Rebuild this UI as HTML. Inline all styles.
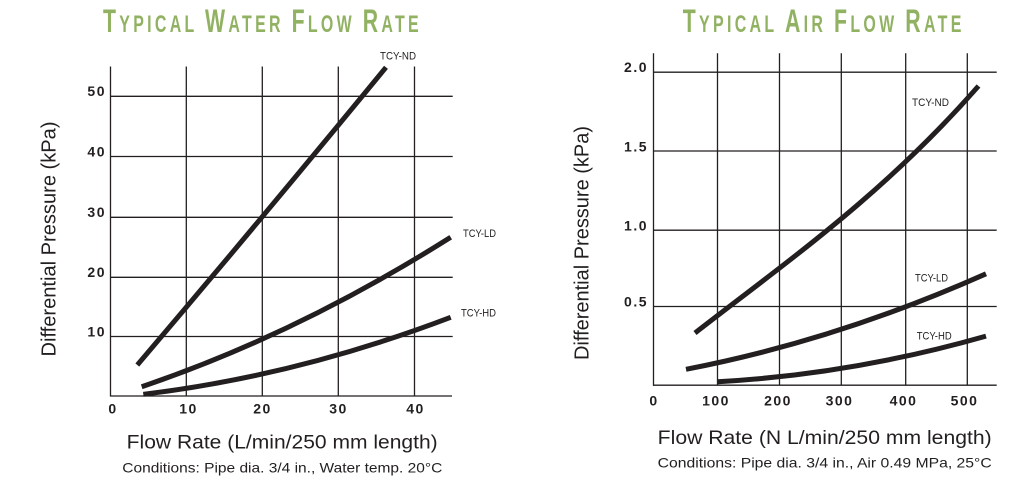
<!DOCTYPE html>
<html>
<head>
<meta charset="utf-8">
<style>
  html, body { margin: 0; padding: 0; background: #ffffff; }
  svg { display: block; }
  text { font-family: "Liberation Sans", "DejaVu Sans", sans-serif; }
</style>
</head>
<body>
<svg width="1020" height="486" viewBox="0 0 1020 486" xmlns="http://www.w3.org/2000/svg">
  <rect x="0" y="0" width="1020" height="486" fill="#ffffff"/>

  <!-- ================= LEFT CHART ================= -->
  <text x="103" y="32" textLength="319" lengthAdjust="spacingAndGlyphs" font-weight="bold" fill="#92b263" letter-spacing="5"><tspan font-size="32">T</tspan><tspan font-size="24">YPICAL </tspan><tspan font-size="32">W</tspan><tspan font-size="24">ATER </tspan><tspan font-size="32">F</tspan><tspan font-size="24">LOW </tspan><tspan font-size="32">R</tspan><tspan font-size="24">ATE</tspan></text>

  <g stroke="#231f20" stroke-width="1.3" fill="none">
    <line x1="110.5" y1="66.5" x2="110.5" y2="396.5"/>
    <line x1="186.3" y1="66.5" x2="186.3" y2="396"/>
    <line x1="262.3" y1="66.5" x2="262.3" y2="396"/>
    <line x1="338.3" y1="66.5" x2="338.3" y2="396"/>
    <line x1="414.5" y1="66.5" x2="414.5" y2="396"/>
    <line x1="110" y1="96.3" x2="452.7" y2="96.3"/>
    <line x1="110" y1="156.5" x2="452.7" y2="156.5"/>
    <line x1="110" y1="217.3" x2="452.7" y2="217.3"/>
    <line x1="110" y1="277.3" x2="452.7" y2="277.3"/>
    <line x1="110" y1="336.5" x2="452.7" y2="336.5"/>
    <line x1="110" y1="396" x2="452" y2="396"/>
  </g>

  <g font-size="14" font-weight="bold" fill="#231f20" text-anchor="end" letter-spacing="1.5">
    <text x="106" y="96">50</text>
    <text x="106" y="156.5">40</text>
    <text x="106" y="217">30</text>
    <text x="106" y="277">20</text>
    <text x="106" y="336.5">10</text>
  </g>
  <g font-size="14" font-weight="bold" fill="#231f20" text-anchor="middle" letter-spacing="1.5">
    <text x="113" y="413.5">0</text>
    <text x="188.5" y="413.5">10</text>
    <text x="262.5" y="413.5">20</text>
    <text x="338.5" y="413.5">30</text>
    <text x="415.5" y="413.5">40</text>
  </g>

  <g stroke="#231f20" stroke-width="5" fill="none" stroke-linecap="butt">
    <path d="M137.3,365 Q261.65,218.85 386,67.3"/>
    <path d="M141.7,386.7 Q296.2,334.6 450.7,237.3"/>
    <path d="M143.3,394.3 Q297,375.8 450.7,317.3"/>
  </g>

  <g font-size="11" fill="#231f20">
    <text x="380" y="59.5" textLength="36" lengthAdjust="spacingAndGlyphs">TCY-ND</text>
    <text x="463" y="237" textLength="33" lengthAdjust="spacingAndGlyphs">TCY-LD</text>
    <text x="461" y="316.5" textLength="35" lengthAdjust="spacingAndGlyphs">TCY-HD</text>
  </g>

  <text transform="translate(55.5,239) rotate(-90)" text-anchor="middle" font-size="20" fill="#231f20" textLength="235" lengthAdjust="spacingAndGlyphs">Differential Pressure (kPa)</text>
  <text x="126.7" y="448.5" font-size="19.5" fill="#231f20" textLength="311" lengthAdjust="spacingAndGlyphs">Flow Rate (L/min/250 mm length)</text>
  <text x="122.3" y="472.5" font-size="14" fill="#231f20" textLength="320" lengthAdjust="spacingAndGlyphs">Conditions: Pipe dia. 3/4 in., Water temp. 20°C</text>

  <!-- ================= RIGHT CHART ================= -->
  <text x="682.7" y="32" textLength="282" lengthAdjust="spacingAndGlyphs" font-weight="bold" fill="#92b263" letter-spacing="5"><tspan font-size="32">T</tspan><tspan font-size="24">YPICAL </tspan><tspan font-size="32">A</tspan><tspan font-size="24">IR </tspan><tspan font-size="32">F</tspan><tspan font-size="24">LOW </tspan><tspan font-size="32">R</tspan><tspan font-size="24">ATE</tspan></text>

  <g stroke="#231f20" stroke-width="1.3" fill="none">
    <line x1="653.5" y1="53.3" x2="653.5" y2="385.8"/>
    <line x1="717.5" y1="53.3" x2="717.5" y2="385.3"/>
    <line x1="779.5" y1="53.3" x2="779.5" y2="385.3"/>
    <line x1="841.3" y1="53.3" x2="841.3" y2="385.3"/>
    <line x1="905.7" y1="53.3" x2="905.7" y2="385.3"/>
    <line x1="967.3" y1="53.3" x2="967.3" y2="385.3"/>
    <line x1="653" y1="72.2" x2="996.7" y2="72.2"/>
    <line x1="653" y1="151" x2="996.7" y2="151"/>
    <line x1="653" y1="230.2" x2="996.7" y2="230.2"/>
    <line x1="653" y1="306.5" x2="996.7" y2="306.5"/>
    <line x1="653" y1="385.2" x2="996.7" y2="385.2"/>
  </g>

  <g font-size="14" font-weight="bold" fill="#231f20" text-anchor="end" letter-spacing="1.5">
    <text x="648" y="72">2.0</text>
    <text x="648" y="151.5">1.5</text>
    <text x="648" y="230.5">1.0</text>
    <text x="648" y="306.5">0.5</text>
  </g>
  <g font-size="14" font-weight="bold" fill="#231f20" text-anchor="middle" letter-spacing="1.5">
    <text x="654" y="405.5">0</text>
    <text x="716" y="405.5">100</text>
    <text x="778" y="405.5">200</text>
    <text x="839.5" y="405.5">300</text>
    <text x="903.5" y="405.5">400</text>
    <text x="964.5" y="405.5">500</text>
  </g>

  <g stroke="#231f20" stroke-width="5" fill="none" stroke-linecap="butt">
    <path d="M695,333 C789.5,259.6 884,194 978.5,86"/>
    <path d="M686,369.3 Q836,340.45 986,273.8"/>
    <path d="M717.7,381.7 Q851.85,374.39 986,336.1"/>
  </g>

  <g font-size="11" fill="#231f20">
    <text x="912" y="106" textLength="37" lengthAdjust="spacingAndGlyphs">TCY-ND</text>
    <text x="915" y="281.7" textLength="33" lengthAdjust="spacingAndGlyphs">TCY-LD</text>
    <text x="916.7" y="339.3" textLength="35" lengthAdjust="spacingAndGlyphs">TCY-HD</text>
  </g>

  <text transform="translate(588.5,243) rotate(-90)" text-anchor="middle" font-size="20" fill="#231f20" textLength="234" lengthAdjust="spacingAndGlyphs">Differential Pressure (kPa)</text>
  <text x="657.7" y="444" font-size="19.5" fill="#231f20" textLength="334" lengthAdjust="spacingAndGlyphs">Flow Rate (N L/min/250 mm length)</text>
  <text x="657.7" y="467.5" font-size="14" fill="#231f20" textLength="334" lengthAdjust="spacingAndGlyphs">Conditions: Pipe dia. 3/4 in., Air 0.49 MPa, 25°C</text>
</svg>
</body>
</html>
